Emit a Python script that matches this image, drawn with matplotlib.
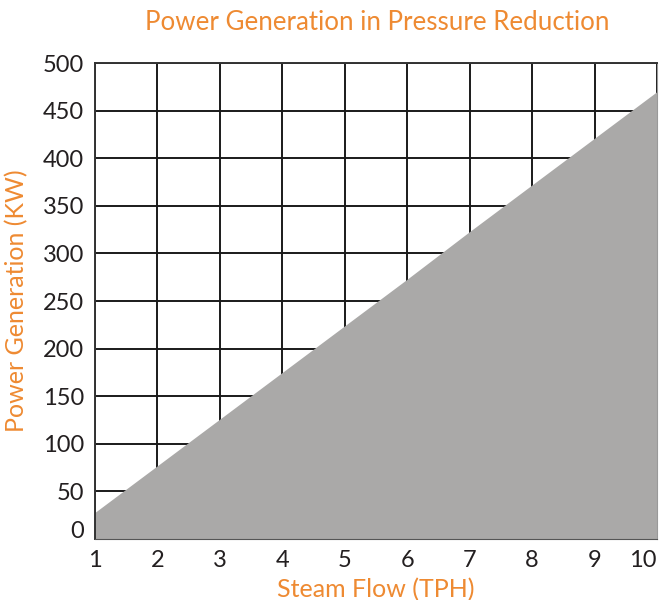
import matplotlib
matplotlib.use("Agg")
from matplotlib import pyplot as plt
from matplotlib import transforms

steam_flow = [1, 2, 3, 4, 5, 6, 7, 8, 9, 10]
power_kw = [28, 77, 126, 175, 224, 273, 323, 372, 421, 470]
y_ticks = [0, 50, 100, 150, 200, 250, 300, 350, 400, 450, 500]

orange = "#ee8a32"
plt.rcParams["font.family"] = ["Lato", "DejaVu Sans"]

fig = plt.figure(figsize=(6.59, 6.0), dpi=100)
ax = fig.add_axes([95 / 659, 61 / 600, 562 / 659, 476 / 600])

ax.fill_between(steam_flow, power_kw, 0, color="#aaa9a8", linewidth=0, zorder=3)
ax.set_xlim(1, 10)
ax.set_ylim(0, 500)
ax.set_xticks(steam_flow)
ax.set_yticks(y_ticks)
ax.grid(True, color="#1a1a1a", linewidth=1.4, zorder=1)
ax.set_axisbelow(True)
ax.tick_params(length=0, labelsize=17, colors="#231f20", pad=8)

for side in ["left", "top"]:
    ax.spines[side].set_color("#333333")
    ax.spines[side].set_linewidth(1.4)
ax.spines["bottom"].set_color("#555555")
ax.spines["right"].set_color("#999999")
for s in ax.spines.values():
    s.set_zorder(4)

# the "0" label sits a little higher in the reference
lbl0 = ax.get_yticklabels()[0]
lbl0.set_transform(lbl0.get_transform() + transforms.ScaledTranslation(0, 7 / 72, fig.dpi_scale_trans))
# "10" ends at the right edge
ax.get_xticklabels()[-1].set_horizontalalignment("right")

ax.set_xlabel("Steam Flow (TPH)", color=orange, fontsize=18, labelpad=5)
ax.set_ylabel("Power Generation (KW)", color=orange, fontsize=18, labelpad=10)
fig.text(377 / 659, 1 - 23 / 600, "Power Generation in Pressure Reduction",
         color=orange, fontsize=18.6, ha="center", va="center")

fig.savefig("out.png", dpi=100)
